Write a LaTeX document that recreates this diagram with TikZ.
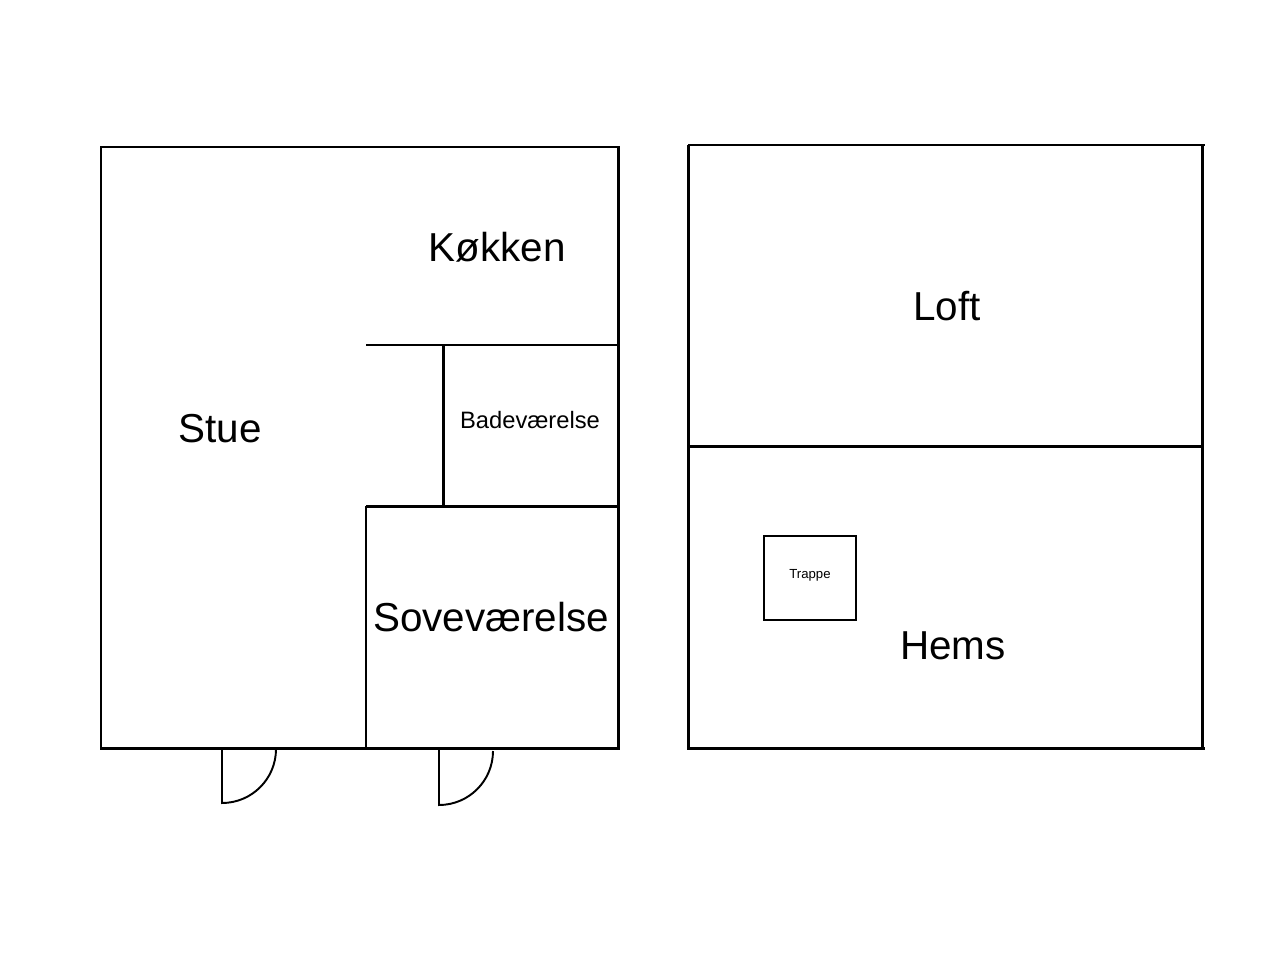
\documentclass[tikz,border=0pt]{standalone}
\usepackage{fontspec}
\setmainfont{Liberation Sans}
\tikzset{
  wall/.style={line width=1.7pt},
  thin wall/.style={line width=1.1pt},
  big/.style={font=\fontsize{23}{27}\selectfont},
  mid/.style={font=\fontsize{13.5}{16}\selectfont},
  tiny/.style={font=\fontsize{7.5}{9}\selectfont}
}
\begin{document}
\begin{tikzpicture}[x=0.02cm,y=-0.02cm]
\useasboundingbox (0,0) rectangle (1280,960);
% ground floor
\draw[wall] (101,147) rectangle (618,748);
\draw[wall] (366,345) -- (618,345);
\draw[wall] (443,345) -- (443,506);
\draw[wall] (366,506) -- (618,506);
\draw[wall] (366,506) -- (366,748);
% doors
\draw[thin wall] (222,748) -- (222,803) arc[start angle=90,end angle=0,radius=54];
\draw[thin wall] (439,748) -- (439,805) arc[start angle=90,end angle=0,radius=54];
\node[big] (kokken) at (497,247) {Køkken};
\node[big] (stue) at (220,429) {Stue};
\node[mid] (bad) at (530,420) {Badeværelse};
\node[big] (sove) at (491,617) {Soveværelse};
% loft
\draw[wall] (688,145) -- (1205,145);
\draw[wall] (688,145) -- (688,748) -- (1205,748);
\draw[wall] (1202,145) -- (1202,748);
\draw[wall] (688,446) -- (1204,446);
\draw[thin wall] (764,536) rectangle (856,620);
\node[tiny] (trappe) at (810,575) {Trappe};
\node[big] (loft) at (947,306) {Loft};
\node[big] (hems) at (953,646) {Hems};
\end{tikzpicture}
\end{document}
